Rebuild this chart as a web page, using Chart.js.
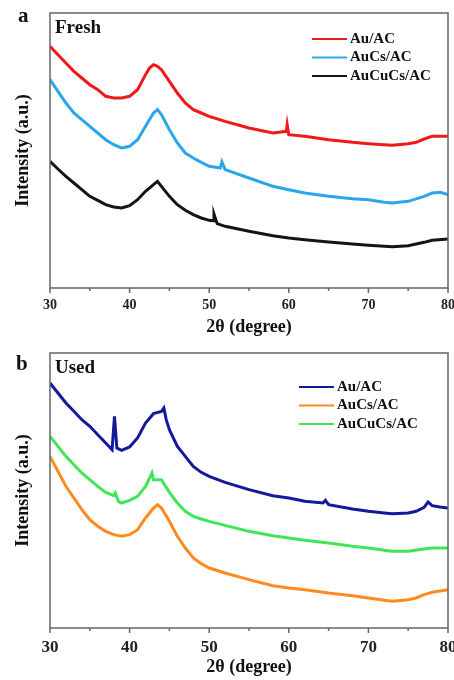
<!DOCTYPE html>
<html>
<head>
<meta charset="utf-8">
<script src="https://cdn.jsdelivr.net/npm/chart.js@4.4.1/dist/chart.umd.min.js"></script>
<style>
  html, body { margin: 0; padding: 0; background: #fff; }
  .panel { position: relative; width: 454px; height: 340px; }
  canvas { display: block; }
</style>
</head>
<body>
<div class="panel"><canvas id="freshChart" width="454" height="340"></canvas></div>
<div class="panel"><canvas id="usedChart" width="454" height="340"></canvas></div>
<script>
// x-axis ticks (2theta, degree)
const xTicks = [30, 40, 50, 60, 70, 80];
const legendLabels = ['Au/AC', 'AuCs/AC', 'AuCuCs/AC'];

// ---- Fresh (a) ----
const freshAuX = [30, 31, 32, 33, 34, 35, 36, 37, 38, 39, 40, 41, 42, 42.5, 43, 43.5, 44, 45, 46, 47, 48, 49, 50, 52, 55, 58, 59.7, 59.8, 60, 62, 65, 68, 70, 72, 73, 75, 76, 77, 78, 80];
const freshAuY = [725, 700, 675, 650, 630, 610, 595, 575, 570, 570, 575, 595, 640, 660, 670, 665, 655, 620, 585, 555, 535, 525, 515, 500, 480, 465, 470, 490, 460, 455, 445, 437, 433, 430, 428, 433, 437, 447, 455, 455];

const freshAuCsX = [30, 31, 32, 33, 34, 35, 36, 37, 38, 39, 40, 41, 42, 43, 43.5, 44, 45, 46, 47, 48, 49, 50, 51.4, 51.6, 52, 55, 58, 60, 62, 65, 68, 70, 72, 73, 75, 77, 78, 79, 80];
const freshAuCsY = [625, 590, 555, 525, 505, 485, 465, 445, 430, 420, 425, 445, 485, 525, 535, 520, 475, 435, 405, 390, 377, 365, 360, 378, 355, 330, 305, 295, 285, 275, 268, 265, 257, 255, 260, 275, 285, 287, 280];

const freshAuCuCsX = [30, 31, 32, 33, 34, 35, 36, 37, 38, 39, 40, 41, 42, 43, 43.5, 44, 45, 46, 47, 48, 49, 50, 50.5, 50.6, 51, 52, 55, 58, 60, 62, 65, 68, 70, 72, 73, 75, 77, 78, 80];
const freshAuCuCsY = [380, 357, 335, 315, 295, 275, 263, 250, 243, 240, 247, 265, 290, 310, 320, 305, 275, 250, 233, 220, 210, 203, 202, 222, 193, 185, 170, 157, 150, 145, 138, 132, 128, 125, 124, 127, 137, 143, 147];

// ---- Used (b) ----
const usedAuX = [30, 31, 32, 33, 34, 35, 36, 37, 37.8, 38.1, 38.4, 39, 40, 41, 42, 43, 44, 44.3, 44.6, 45, 46, 47, 48, 49, 50, 52, 55, 58, 60, 62, 64.3, 64.6, 65, 68, 70, 72, 73, 75, 76, 77, 77.5, 78, 79, 80];
const usedAuY = [735, 705, 675, 650, 625, 605, 580, 555, 535, 635, 540, 533, 543, 570, 615, 643, 650, 660, 625, 595, 545, 515, 485, 467, 455, 437, 415, 397, 390, 380, 375, 383, 370, 357, 350, 345, 343, 345, 350, 362, 378, 367, 363, 360];

const usedAuCsX = [30, 31, 32, 33, 34, 35, 36, 37, 38, 39, 40, 41, 42, 43, 43.5, 44, 45, 46, 47, 48, 49, 50, 52, 55, 58, 60, 62, 65, 68, 70, 72, 73, 75, 76, 77, 78, 80];
const usedAuCsY = [515, 470, 425, 390, 355, 325, 305, 290, 280, 275, 280, 295, 330, 360, 370, 360, 320, 275, 240, 210, 193, 180, 165, 145, 127, 120, 115, 105, 97, 90, 83, 80, 85, 90, 100, 107, 115];

const usedAuCuCsX = [30, 31, 32, 33, 34, 35, 36, 37, 38, 38.2, 38.6, 39, 40, 41, 42, 42.8, 43, 44, 45, 46, 47, 48, 49, 50, 52, 55, 58, 60, 62, 65, 68, 70, 72, 73, 75, 77, 78, 80];
const usedAuCuCsY = [575, 545, 515, 490, 465, 445, 425, 407, 397, 405, 380, 375, 383, 395, 425, 465, 445, 445, 407, 375, 350, 335, 327, 320, 308, 290, 277, 270, 263, 255, 245, 240, 233, 230, 230, 237, 240, 240];

function pairs(xs, ys) {
  return xs.map((x, i) => ({ x: x, y: ys[i] }));
}

// frame, outward minor/major ticks, legend and panel labels
const decorPlugin = {
  id: 'decor',
  afterDraw(chart, args, opts) {
    const ctx = chart.ctx;
    const area = chart.chartArea;
    const xs = chart.scales.x;
    ctx.save();
    ctx.strokeStyle = '#666';
    ctx.lineWidth = 1.5;
    ctx.strokeRect(area.left, area.top, area.right - area.left, area.bottom - area.top);
    for (let v = 30; v <= 80; v += 5) {
      const px = xs.getPixelForValue(v);
      const len = v % 10 === 0 ? 5 : 3;
      ctx.beginPath();
      ctx.moveTo(px, area.bottom);
      ctx.lineTo(px, area.bottom + len);
      ctx.stroke();
    }
    // legend
    ctx.font = 'bold 15px "Liberation Serif"';
    ctx.textBaseline = 'middle';
    ctx.textAlign = 'left';
    chart.data.datasets.forEach((ds, i) => {
      const y = area.top + opts.legendTop + i * opts.legendGap;
      const x0 = area.right - opts.legendRight;
      ctx.strokeStyle = ds.borderColor;
      ctx.lineWidth = 2;
      ctx.beginPath();
      ctx.moveTo(x0, y);
      ctx.lineTo(x0 + 35, y);
      ctx.stroke();
      ctx.fillStyle = '#111';
      ctx.fillText(ds.label, x0 + 38, y);
    });
    // panel letter and condition
    ctx.fillStyle = '#111';
    ctx.font = 'bold 21px "Liberation Serif"';
    ctx.fillText(opts.letter, opts.letterX, area.top + opts.letterY);
    ctx.font = 'bold 19px "Liberation Serif"';
    ctx.fillText(opts.tag, area.left + 5, area.top + 15);
    ctx.restore();
  }
};

function makeChart(id, series, colors, tag, letter, letterX, letterY, legendTop, legendRight, tickSize) {
  return new Chart(document.getElementById(id), {
    type: 'line',
    data: {
      datasets: series.map((d, i) => ({
        label: legendLabels[i],
        data: d,
        borderColor: colors[i],
        borderWidth: 3,
        pointRadius: 0,
        tension: 0,
        fill: false
      }))
    },
    options: {
      responsive: false,
      animation: false,
      events: [],
      layout: { padding: { left: 0, right: 6, top: 13, bottom: 0 }, autoPadding: false },
      plugins: {
        legend: { display: false },
        tooltip: { enabled: false },
        decor: { tag: tag, letter: letter, letterX: letterX, letterY: letterY, legendTop: legendTop, legendGap: 18.5, legendRight: legendRight }
      },
      scales: {
        x: {
          type: 'linear',
          min: 30,
          max: 80,
          afterBuildTicks: (scale) => { scale.ticks = xTicks.map(v => ({ value: v })); },
          afterFit: (scale) => { scale.height = 52; scale.paddingLeft = 0; scale.paddingRight = 0; },
          grid: { display: false, drawTicks: false },
          border: { display: false },
          ticks: {
            padding: 9,
            color: '#222',
            maxRotation: 0,
            font: { family: 'Liberation Serif', weight: 'bold', size: tickSize }
          },
          title: {
            display: true,
            text: '2θ (degree)',
            color: '#111',
            padding: { top: 0, bottom: 2 },
            font: { family: 'Liberation Serif', weight: 'bold', size: 18 }
          }
        },
        y: {
          min: 0,
          max: 825,
          afterFit: (scale) => { scale.width = 50; },
          grid: { display: false, drawTicks: false },
          border: { display: false },
          ticks: { display: false },
          title: {
            display: true,
            text: 'Intensity (a.u.)',
            color: '#111',
            padding: { top: 13, bottom: 0 },
            font: { family: 'Liberation Serif', weight: 'bold', size: 18 }
          }
        }
      }
    },
    plugins: [decorPlugin]
  });
}

makeChart('freshChart',
  [pairs(freshAuX, freshAuY), pairs(freshAuCsX, freshAuCsY), pairs(freshAuCuCsX, freshAuCuCsY)],
  ['#f01818', '#2aa6ea', '#141414'],
  'Fresh', 'a', 18, 4, 26, 136, 14);

makeChart('usedChart',
  [pairs(usedAuX, usedAuY), pairs(usedAuCsX, usedAuCsY), pairs(usedAuCuCsX, usedAuCuCsY)],
  ['#14189c', '#ff8a1e', '#3ee658'],
  'Used', 'b', 16, 12, 34, 149, 17);
</script>
</body>
</html>
